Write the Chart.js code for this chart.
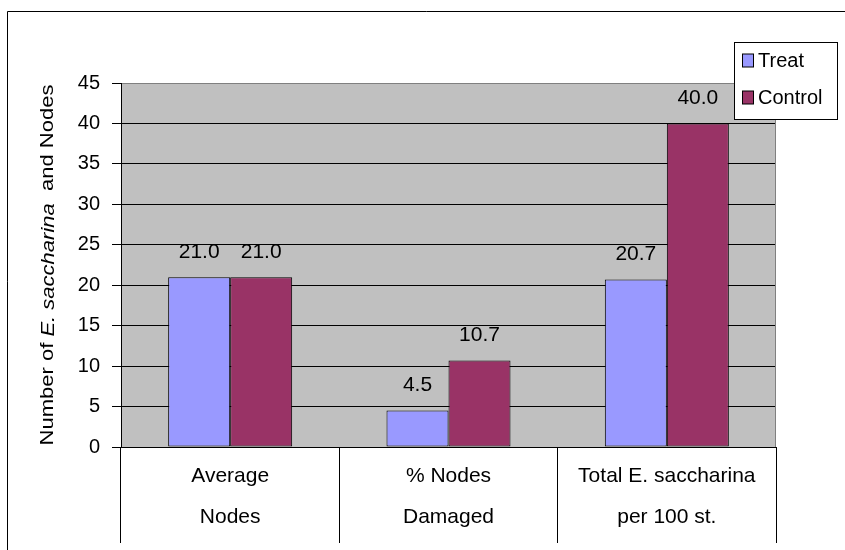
<!DOCTYPE html>
<html>
<head>
<meta charset="utf-8">
<title>E. saccharina and nodes</title>
<script src="https://cdn.jsdelivr.net/npm/chart.js@4.4.1/dist/chart.umd.min.js"></script>
<style>
  html, body { margin: 0; padding: 0; background: #fff; }
  #chart { display: block; }
</style>
</head>
<body>
<canvas id="chart" width="845" height="550"></canvas>
<script>
// Categories (two-line labels) and series values
const categories = [
  ["Average", "Nodes"],
  ["% Nodes", "Damaged"],
  ["Total E. saccharina", "per 100 st."]
];
const seriesNames = ["Treat", "Control"];
const treatValues = [21.0, 4.5, 20.7];
const controlValues = [21.0, 10.7, 40.0];

// Value axis range
const yMin = 0;
const yMax = 45;
const yStep = 5;

// Axis title pieces: [text, italic]
const yTitleParts = [
  ["Number of ", false],
  ["E. saccharina", true],
  ["  and Nodes", false]
];

const FONT = 'Arial, "Liberation Sans", sans-serif';
const seriesColors = ["#9999FF", "#993366"];

const frameAndExtras = {
  id: 'frameAndExtras',
  beforeDraw(chart) {
    const { ctx, chartArea: a } = chart;
    ctx.save();
    ctx.fillStyle = '#ffffff';
    ctx.fillRect(0, 0, chart.width, chart.height);
    ctx.fillStyle = '#C0C0C0';
    ctx.fillRect(a.left, a.top, a.right - a.left, a.bottom - a.top);
    ctx.restore();
  },
  afterDatasetsDraw(chart) {
    const { ctx } = chart;
    ctx.save();
    ctx.fillStyle = '#000';
    ctx.font = '21px ' + FONT;
    ctx.textAlign = 'center';
    ctx.textBaseline = 'middle';
    chart.data.datasets.forEach((ds, i) => {
      const meta = chart.getDatasetMeta(i);
      meta.data.forEach((bar, j) => {
        ctx.fillText(ds.data[j].toFixed(1), bar.x, bar.y - 25);
      });
    });
    ctx.restore();
  },
  afterDraw(chart) {
    const { ctx, chartArea: a } = chart;
    ctx.save();
    // plot area edge on the right
    ctx.strokeStyle = '#808080';
    ctx.lineWidth = 1;
    ctx.beginPath();
    ctx.moveTo(Math.round(a.right) - 0.5, a.top);
    ctx.lineTo(Math.round(a.right) - 0.5, a.bottom);
    ctx.stroke();

    // outer chart frame
    ctx.strokeStyle = '#000';
    ctx.beginPath();
    ctx.moveTo(7.5, chart.height + 1);
    ctx.lineTo(7.5, 11.5);
    ctx.lineTo(chart.width + 1, 11.5);
    ctx.stroke();

    // rotated value-axis title with italic species name
    const size = 18;
    let total = 0;
    const widths = yTitleParts.map(([t, it]) => {
      ctx.font = (it ? 'italic ' : '') + size + 'px ' + FONT;
      const w = ctx.measureText(t).width;
      total += w;
      return w;
    });
    const span = 361;
    const stretch = span / total;
    const cy = (a.top + a.bottom) / 2;
    ctx.translate(48.5, cy);
    ctx.rotate(-Math.PI / 2);
    ctx.scale(stretch, 1);
    ctx.fillStyle = '#000';
    ctx.textBaseline = 'middle';
    ctx.textAlign = 'left';
    let x = -total / 2;
    yTitleParts.forEach(([t, it], k) => {
      ctx.font = (it ? 'italic ' : '') + size + 'px ' + FONT;
      ctx.fillText(t, x, 0);
      x += widths[k];
    });
    ctx.setTransform(1, 0, 0, 1, 0, 0);

    // legend box
    const lx = 734.5, ly = 42.5, lw = 103, lh = 77;
    ctx.fillStyle = '#fff';
    ctx.fillRect(lx, ly, lw, lh);
    ctx.strokeStyle = '#000';
    ctx.strokeRect(lx, ly, lw, lh);
    const rowsY = [60, 97];
    ctx.font = '20px ' + FONT;
    ctx.textAlign = 'left';
    ctx.textBaseline = 'middle';
    seriesNames.forEach((name, i) => {
      const y = rowsY[i];
      ctx.fillStyle = seriesColors[i];
      ctx.fillRect(742.5, y - 6, 11, 13);
      ctx.strokeStyle = '#000';
      ctx.strokeRect(742.5, y - 6, 11, 13);
      ctx.fillStyle = '#000';
      ctx.fillText(name, 758, y + 1);
    });
    ctx.restore();
  }
};

new Chart(document.getElementById('chart'), {
  type: 'bar',
  data: {
    labels: categories,
    datasets: [
      {
        label: seriesNames[0],
        data: treatValues,
        backgroundColor: seriesColors[0],
        borderColor: '#000',
        borderWidth: 1,
        borderSkipped: false
      },
      {
        label: seriesNames[1],
        data: controlValues,
        backgroundColor: seriesColors[1],
        borderColor: '#000',
        borderWidth: 1,
        borderSkipped: false
      }
    ]
  },
  options: {
    responsive: false,
    animation: false,
    devicePixelRatio: 1,
    layout: { padding: { left: 0, top: 83, right: 69, bottom: 0 } },
    datasets: { bar: { barPercentage: 1.0, categoryPercentage: 0.568 } },
    plugins: {
      legend: { display: false },
      tooltip: { enabled: false }
    },
    scales: {
      x: {
        offset: true,
        grid: {
          offset: true,
          drawOnChartArea: false,
          drawTicks: true,
          tickLength: 96,
          tickColor: '#000',
          color: '#000'
        },
        border: { display: true, color: '#000', width: 1 },
        ticks: {
          color: '#000',
          padding: -87,
          maxRotation: 0,
          autoSkip: false,
          font: { family: FONT, size: 21, lineHeight: 1.95 }
        },
        afterFit(scale) { scale.height = 103; }
      },
      y: {
        min: yMin,
        max: yMax,
        ticks: {
          stepSize: yStep,
          color: '#000',
          padding: 12,
          font: { family: FONT, size: 20 }
        },
        grid: {
          color: (c) => (c.tick && c.tick.value === yMax ? '#808080' : '#000'),
          tickColor: '#000',
          tickLength: 9,
          drawTicks: true
        },
        border: { display: true, color: '#000', width: 1 },
        afterFit(scale) { scale.width = 121; }
      }
    }
  },
  plugins: [frameAndExtras]
});
</script>
</body>
</html>
